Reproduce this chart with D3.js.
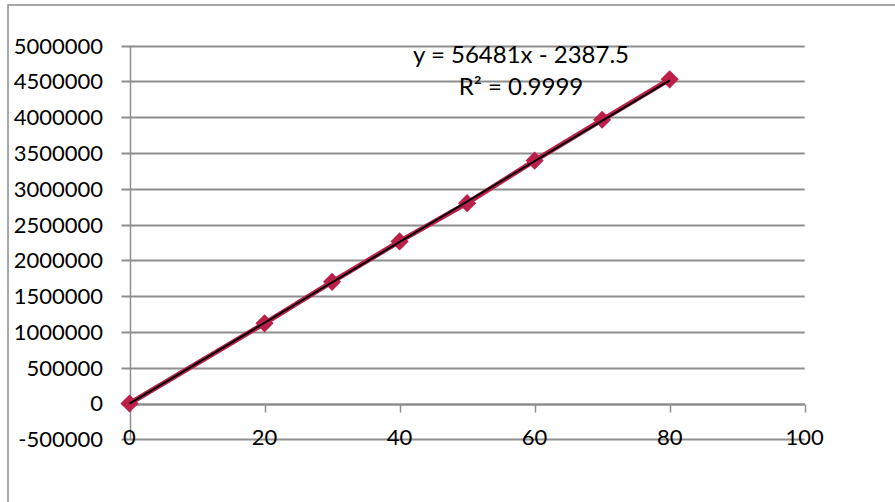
<!DOCTYPE html>
<html>
<head>
<meta charset="utf-8">
<script src="https://cdn.jsdelivr.net/npm/d3@7"></script>
<style>
  html, body { margin: 0; padding: 0; background: #fff; }
  svg { display: block; }
  text { font-family: Lato, "Open Sans", sans-serif; fill: #000; }
</style>
</head>
<body>
<svg id="chart" width="895" height="502"></svg>
<script>
// Calibration series: concentration vs. response
const xValues = [0, 20, 30, 40, 50, 60, 70, 80];
const yValues = [0, 1120000, 1700000, 2265000, 2800000, 3395000, 3965000, 4530000];

// Linear trendline coefficients and fit quality
const trendSlope = 56481;
const trendIntercept = -2387.5;
const trendR2 = 0.9999;

// Axis ticks
const xTicks = [0, 20, 40, 60, 80, 100];
const yTicks = [-500000, 0, 500000, 1000000, 1500000, 2000000, 2500000,
                3000000, 3500000, 4000000, 4500000, 5000000];

const svg = d3.select("#chart");
const W = 895, H = 502;

const x = d3.scaleLinear().domain([0, 100]).range([129.5, 804.7]);
const y = d3.scaleLinear().domain([-500000, 5000000]).range([439.3, 45.7]);

const gridColor = "#8e8e8e";
const seriesColor = "#BC2049";

// Outer chart frame
svg.append("rect")
  .attr("x", 8).attr("y", 5)
  .attr("width", W + 20).attr("height", H + 20)
  .attr("fill", "none").attr("stroke", "#8a8a8a").attr("stroke-width", 1.5);

// Horizontal gridlines with short tick stubs to the left of the value axis
svg.append("g")
  .selectAll("line")
  .data(yTicks)
  .join("line")
  .attr("x1", x(0) - 8).attr("x2", x(100))
  .attr("y1", d => Math.round(y(d)) + 0.5)
  .attr("y2", d => Math.round(y(d)) + 0.5)
  .attr("stroke", gridColor).attr("stroke-width", 2);

// Value axis line
svg.append("line")
  .attr("x1", Math.round(x(0)) + 0.5).attr("x2", Math.round(x(0)) + 0.5)
  .attr("y1", y(5000000)).attr("y2", y(-500000))
  .attr("stroke", gridColor).attr("stroke-width", 1.5);

// Value axis labels (plain hyphen for negatives)
svg.append("g")
  .selectAll("text")
  .data(yTicks)
  .join("text")
  .attr("x", 103)
  .attr("y", d => y(d))
  .attr("dy", "0.36em")
  .attr("text-anchor", "end")
  .attr("font-size", 22)
  .text(d => String(d));

// Category axis drawn at y = 0, ticks pointing down
const xAxisY = Math.round(y(0)) + 0.5;
svg.append("line")
  .attr("x1", x(0)).attr("x2", x(100))
  .attr("y1", xAxisY).attr("y2", xAxisY)
  .attr("stroke", gridColor).attr("stroke-width", 2);
svg.append("g")
  .selectAll("line")
  .data(xTicks)
  .join("line")
  .attr("x1", d => Math.round(x(d)) + 0.5).attr("x2", d => Math.round(x(d)) + 0.5)
  .attr("y1", xAxisY).attr("y2", xAxisY + 8)
  .attr("stroke", gridColor).attr("stroke-width", 1.5);

// Category axis labels sit at the bottom of the plot
svg.append("g")
  .selectAll("text")
  .data(xTicks)
  .join("text")
  .attr("x", d => x(d))
  .attr("y", 445)
  .attr("text-anchor", "middle")
  .attr("font-size", 22)
  .text(d => d);

// Data series line
const pts = xValues.map((v, i) => [v, yValues[i]]);
svg.append("path")
  .datum(pts)
  .attr("d", d3.line().x(d => x(d[0])).y(d => y(d[1])))
  .attr("fill", "none")
  .attr("stroke", seriesColor)
  .attr("stroke-width", 5);

// Diamond markers
svg.append("g")
  .selectAll("path")
  .data(pts)
  .join("path")
  .attr("transform", d => `translate(${x(d[0])},${y(d[1])})`)
  .attr("d", d3.symbol().type(d3.symbolDiamond2).size(210))
  .attr("fill", seriesColor);

// Linear trendline
const trendX = [0, 80];
svg.append("path")
  .datum(trendX.map(v => [v, trendSlope * v + trendIntercept]))
  .attr("d", d3.line().x(d => x(d[0])).y(d => y(d[1])))
  .attr("fill", "none")
  .attr("stroke", "#000")
  .attr("stroke-width", 2);

// Trendline equation and R²
svg.append("text")
  .attr("x", 521).attr("y", 63)
  .attr("text-anchor", "middle")
  .attr("font-size", 24)
  .text(`y = ${trendSlope}x - ${Math.abs(trendIntercept)}`);
svg.append("text")
  .attr("x", 521).attr("y", 95)
  .attr("text-anchor", "middle")
  .attr("font-size", 24)
  .text(`R² = ${trendR2}`);
</script>
</body>
</html>
